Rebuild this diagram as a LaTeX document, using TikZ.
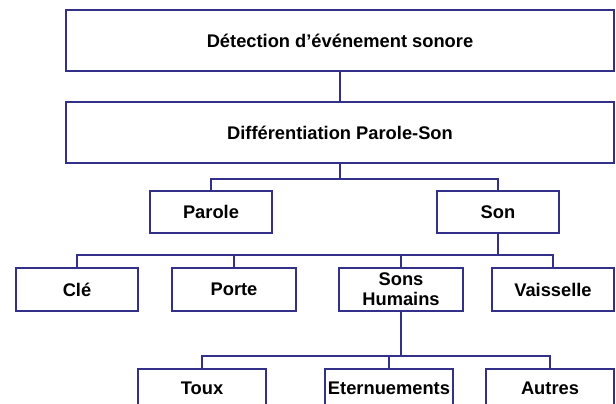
\documentclass[tikz,border=0pt]{standalone}
\usepackage{fontspec}
\setmainfont{Liberation Sans}
\usepackage{tikz}
\usetikzlibrary{positioning}
\definecolor{boxline}{RGB}{50,48,136}
\tikzstyle{block} = [draw=boxline, line width=1.8pt, rectangle, fill=white, minimum height=43pt, minimum width=122pt, inner sep=0pt, align=center, font=\fontsize{18.3}{20}\selectfont\bfseries]
\tikzstyle{wide} = [block, minimum width=548pt, minimum height=61pt]
\tikzstyle{link} = [draw=boxline, line width=1.8pt]

\begin{document}
\begin{tikzpicture}[x=1pt, y=-1pt, node distance=157pt]

\useasboundingbox (0,0) rectangle (616,404);
\clip (0,0) rectangle (616,404);

\node [wide] (detect) at (340,40.5) {Détection d’événement sonore};
\node [wide] (diff) at (340,132.5) {Différentiation Parole-Son};

\node [block, minimum height=42pt] (parole) at (211,212) {Parole};
\node [block, minimum height=42pt, right of=parole, node distance=287pt] (son) {Son};

\node [block] (cle) at (77,289.5) {Clé};
\node [block, minimum width=124pt, right of=cle] (porte) {Porte};
\node [block, minimum width=124pt, right of=porte, node distance=167pt] (sons) {Sons\\Humains};
\node [block, right of=sons, node distance=152pt] (vaisselle) {Vaisselle};

\node [block, minimum width=128pt, minimum height=39pt] (toux) at (202,388.5) {Toux};
\node [block, minimum width=128pt, minimum height=39pt, right of=toux, node distance=187pt] (eternu) {Eternuements};
\node [block, minimum width=128pt, minimum height=39pt, right of=eternu, node distance=161pt] (autres) {Autres};

% bus points
\coordinate (bus1) at (340,179);
\coordinate (bus2) at (498,255);
\coordinate (bus3) at (401,356);

\draw [link] (detect) -- (diff);
\draw [link] (diff.south) -- (bus1);
\draw [link] (parole.north) |- (bus1) -| (son.north);

\draw [link] (son.south) -- (bus2);
\draw [link] (cle.north) |- (bus2);
\draw [link] (vaisselle.north) |- (bus2);
\draw [link] (porte.north) -- (porte.north |- bus2);
\draw [link] (sons.north) -- (sons.north |- bus2);

\draw [link] (sons.south) -- (bus3);
\draw [link] (toux.north) |- (bus3);
\draw [link] (autres.north) |- (bus3);
\draw [link] (eternu.north) -- (eternu.north |- bus3);

\end{tikzpicture}
\end{document}
